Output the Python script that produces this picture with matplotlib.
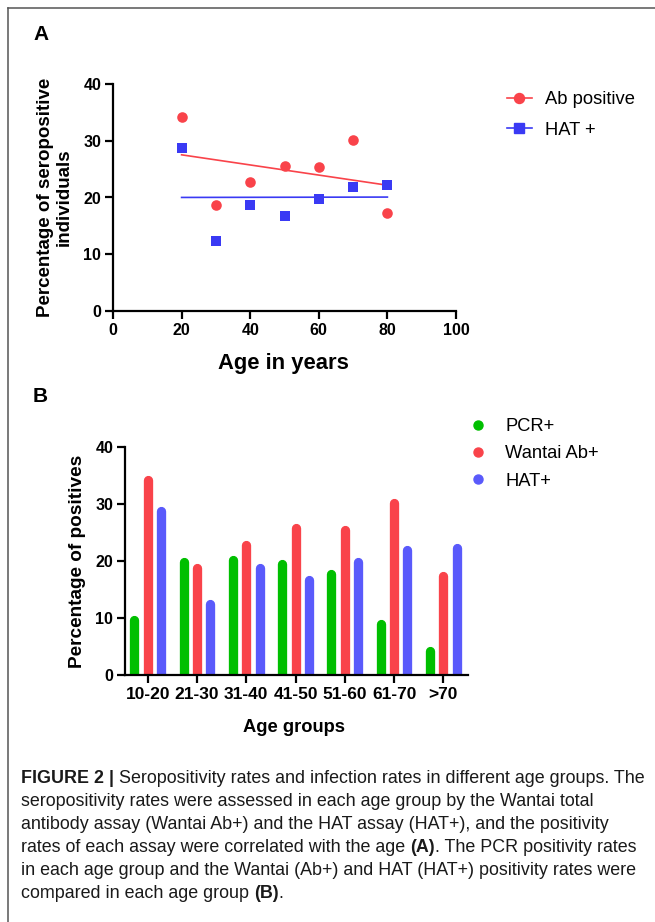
import numpy as np
import matplotlib
matplotlib.use("Agg")
import matplotlib.pyplot as plt
from matplotlib.lines import Line2D

plt.rcParams['font.family'] = ['Liberation Sans', 'DejaVu Sans']

# Panel A data: percentage seropositive by age (years)
ages = [20, 30, 40, 50, 60, 70, 80]
ab_positive = [34.2, 18.6, 22.7, 25.6, 25.4, 30.1, 17.3]
hat_positive = [28.8, 12.4, 18.6, 16.7, 19.7, 21.9, 22.2]

# Panel B data: percentage positives by age group
age_groups = ['10-20', '21-30', '31-40', '41-50', '51-60', '61-70', '>70']
pcr_pos = [9.7, 19.8, 20.1, 19.4, 17.7, 9.0, 4.2]
wantai_pos = [34.1, 18.7, 22.8, 25.7, 25.4, 30.1, 17.3]
hat_pos = [28.7, 12.4, 18.7, 16.7, 19.8, 21.9, 22.2]

caption_lines = [
    [("FIGURE 2 | ", True), ("Seropositivity rates and infection rates in different age groups. The", False)],
    [("seropositivity rates were assessed in each age group by the Wantai total", False)],
    [("antibody assay (Wantai Ab+) and the HAT assay (HAT+), and the positivity", False)],
    [("rates of each assay were correlated with the age ", False), ("(A)", True),
     (". The PCR positivity rates", False)],
    [("in each age group and the Wantai (Ab+) and HAT (HAT+) positivity rates were", False)],
    [("compared in each age group ", False), ("(B)", True), (".", False)],
]

RED = '#F9434A'
BLUE_A = '#3A3AF4'
GREEN = '#00BF00'
BLUE_B = '#5A5AFB'

W, H = 655, 922
fig = plt.figure(figsize=(W / 100, H / 100), dpi=100)


def fx(px):
    return px / W


def fy(py):
    return 1 - py / H


# border lines (left and top)
fig.add_artist(Line2D([fx(7.5), fx(7.5)], [fy(8.5), 0], color='#555555', lw=1.1))
fig.add_artist(Line2D([fx(7.5), 1], [fy(8.5), fy(8.5)], color='#555555', lw=1.1))


def style_axes(ax):
    for s in ['top', 'right']:
        ax.spines[s].set_visible(False)
    for s in ['left', 'bottom']:
        ax.spines[s].set_linewidth(1.6)
    ax.tick_params(width=1.6, length=5.5, labelsize=11.5, pad=3)
    for lab in ax.get_xticklabels() + ax.get_yticklabels():
        lab.set_fontweight('bold')


# ---------- Panel A ----------
axA = fig.add_axes([fx(113), fy(311), fx(456) - fx(113), fy(84) - fy(311)])
axA.scatter(ages, ab_positive, s=58, color=RED, marker='o', zorder=3, linewidths=0)
axA.scatter(ages, hat_positive, s=50, color=BLUE_A, marker='s', zorder=3, linewidths=0)

xfit = np.array([min(ages), max(ages)])
for vals, col in [(ab_positive, RED), (hat_positive, BLUE_A)]:
    k, b = np.polyfit(ages, vals, 1)
    axA.plot(xfit, k * xfit + b, color=col, lw=1.2, zorder=2)

axA.set_xlim(0, 100)
axA.set_ylim(0, 40)
axA.set_xticks([0, 20, 40, 60, 80, 100])
axA.set_yticks([0, 10, 20, 30, 40])
style_axes(axA)
fig.text(fx(283), fy(363), 'Age in years', fontsize=15.8, fontweight='bold',
         ha='center', va='center')
fig.text(fx(54.5), fy(197), 'Percentage of seropositive\nindividuals', fontsize=13.5,
         fontweight='bold', rotation=90, ha='center', va='center',
         multialignment='center', linespacing=1.12)

hA = [Line2D([0], [0], color=RED, marker='o', markersize=7.2, lw=1.2),
      Line2D([0], [0], color=BLUE_A, marker='s', markersize=6.6, lw=1.2)]
axA.legend(hA, ['Ab positive', 'HAT +'], loc='upper left',
           bbox_to_anchor=(fx(506.5), fy(91)), bbox_transform=fig.transFigure,
           frameon=False, fontsize=13.2, handlelength=1.37, handletextpad=0.73,
           labelspacing=0.75, borderpad=0, borderaxespad=0)

fig.text(fx(33), fy(35), 'A', fontsize=15, fontweight='bold', va='center', ha='left')

# ---------- Panel B ----------
axB = fig.add_axes([fx(125), fy(675), fx(468) - fx(125), fy(446.7) - fy(675)])
xpos = np.arange(len(age_groups))
off = 0.27
bar_lw = 6.7
for i in xpos:
    for dx, vals, col in [(-off, pcr_pos, GREEN), (0, wantai_pos, RED), (off, hat_pos, BLUE_B)]:
        axB.plot([i + dx, i + dx], [0, vals[i]], color=col, lw=bar_lw,
                 solid_capstyle='round', zorder=2)

axB.set_xlim(-0.46, 6.5)
axB.set_ylim(0, 40)
axB.set_xticks(xpos)
axB.set_xticklabels(age_groups)
axB.set_yticks([0, 10, 20, 30, 40])
style_axes(axB)
axB.tick_params(axis='x', labelsize=12.5)
for lab in axB.get_xticklabels():
    lab.set_fontweight('bold')
fig.text(fx(294), fy(727), 'Age groups', fontsize=13.2, fontweight='bold',
         ha='center', va='center')
fig.text(fx(77), fy(561), 'Percentage of positives', fontsize=13.7,
         fontweight='bold', rotation=90, ha='center', va='center')

hB = [Line2D([0], [0], color=c, marker='o', markersize=6.5, lw=0)
      for c in [GREEN, RED, BLUE_B]]
axB.legend(hB, ['PCR+', 'Wantai Ab+', 'HAT+'], loc='upper left',
           bbox_to_anchor=(fx(469), fy(418)), bbox_transform=fig.transFigure,
           frameon=False, fontsize=13.2, handlelength=1.0, handletextpad=0.97,
           labelspacing=0.57, borderpad=0, borderaxespad=0)

fig.text(fx(33), fy(396), 'B', fontsize=15, fontweight='bold', va='center', ha='left')

# ---------- Caption ----------
renderer = fig.canvas.get_renderer()
y0 = 778
for li, pieces in enumerate(caption_lines):
    x = fx(21)
    y = fy(y0 + li * 23)
    for txt, bold in pieces:
        t = fig.text(x, y, txt, fontsize=12.9, va='center', ha='left',
                     fontweight='bold' if bold else 'normal', color='#1a1a1a')
        bb = t.get_window_extent(renderer=renderer)
        x += bb.width / W

fig.savefig('out.png', dpi=100)
